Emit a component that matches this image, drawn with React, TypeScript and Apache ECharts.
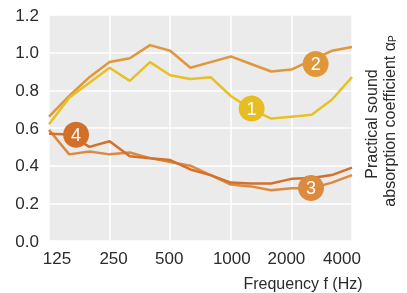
import React, { useEffect, useRef } from "react";
import * as echarts from "echarts";

const frequencies = [125, 160, 200, 250, 315, 400, 500, 630, 800, 1000, 1250, 1600, 2000, 2500, 3150, 4000];
const tickLabels = ["125", "250", "500", "1000", "2000", "4000"];
const yTicks = [0, 0.2, 0.4, 0.6, 0.8, 1.0, 1.2];

const series1 = [0.62, 0.76, 0.84, 0.92, 0.85, 0.95, 0.88, 0.86, 0.87, 0.77, 0.70, 0.65, 0.66, 0.67, 0.75, 0.87];
const series2 = [0.66, 0.77, 0.87, 0.95, 0.97, 1.04, 1.01, 0.92, 0.95, 0.98, 0.94, 0.90, 0.91, 0.96, 1.01, 1.03];
const series3 = [0.59, 0.46, 0.475, 0.46, 0.47, 0.44, 0.42, 0.40, 0.35, 0.30, 0.29, 0.27, 0.28, 0.28, 0.31, 0.35];
const series4 = [0.57, 0.565, 0.50, 0.53, 0.45, 0.44, 0.43, 0.38, 0.35, 0.31, 0.305, 0.305, 0.33, 0.335, 0.35, 0.39];

const badgeLabels = ["1", "2", "3", "4"];
const badgeX = [10.03, 13.2, 12.97, 1.34];
const badgeY = [0.703, 0.94, 0.281, 0.564];

const lineColors = ["#e8c024", "#df973a", "#dd8a40", "#d3712b"];
const badgeColors = ["#e6bd22", "#df973a", "#dc8a3e", "#d2702a"];

const FONT = "'Liberation Sans', Arial, Helvetica, sans-serif";

export default function App() {
  const ref = useRef<HTMLDivElement>(null);
  useEffect(() => {
    if (!ref.current) return;
    const chart = echarts.init(ref.current, null, { renderer: "svg" });
    const allSeries = [series1, series2, series3, series4];
    const labelPad: Record<string, number[]> = {
      "125": [0, 0, 0, 16],
      "250": [0, 0, 0, 8],
      "500": [0, 2, 0, 0],
      "1000": [0, 0, 0, 2],
      "2000": [0, 10, 0, 0],
      "4000": [0, 20, 0, 0],
    };
    const rich: Record<string, any> = {};
    tickLabels.forEach((t) => {
      rich["t" + t] = { fontSize: 17, fontFamily: FONT, color: "#2b2b2b", padding: labelPad[t] };
    });
    chart.setOption({
      animation: false,
      grid: {
        left: 49,
        right: 55,
        top: 15,
        bottom: 52,
        show: true,
        backgroundColor: "#ebebeb",
        borderWidth: 0,
      },
      xAxis: {
        type: "value",
        min: 0,
        max: frequencies.length - 1,
        interval: 3,
        axisLine: { show: false },
        axisTick: { show: false },
        splitLine: { show: true, lineStyle: { color: "#ffffff", width: 1.5 } },
        axisLabel: {
          margin: 9,
          formatter: (v: number) => {
            const t = tickLabels[Math.round(v / 3)];
            return t ? `{t${t}|${t}}` : "";
          },
          rich,
        },
      },
      yAxis: {
        type: "value",
        min: yTicks[0],
        max: yTicks[yTicks.length - 1],
        interval: 0.2,
        axisLine: { show: false },
        axisTick: { show: false },
        splitLine: { show: true, lineStyle: { color: "#ffffff", width: 1.5 } },
        axisLabel: {
          margin: 10,
          fontSize: 17,
          fontFamily: FONT,
          color: "#2b2b2b",
          formatter: (v: number) => v.toFixed(1),
        },
      },
      series: [
        ...allSeries.map((s, k) => ({
          type: "line",
          data: s.map((v, i) => [i, v]),
          symbol: "none",
          lineStyle: { color: lineColors[k], width: 2.5 },
          z: 2 + (k === 0 ? 1 : 0),
        })),
        {
          type: "scatter",
          symbol: "circle",
          symbolSize: 26,
          z: 10,
          data: badgeLabels.map((b, k) => ({
            value: [badgeX[k], badgeY[k]],
            name: b,
            itemStyle: { color: badgeColors[k], opacity: 1 },
          })),
          itemStyle: { opacity: 1 },
          label: {
            show: true,
            position: "inside",
            formatter: (p: any) => p.name,
            color: "#ffffff",
            fontSize: 18,
            fontFamily: FONT,
          },
        },
      ],
      graphic: [
        {
          type: "text",
          x: 303,
          y: 283,
          style: {
            text: "Frequency f (Hz)",
            fontSize: 16,
            fontFamily: FONT,
            fill: "#2b2b2b",
            textAlign: "center",
            textVerticalAlign: "middle",
          },
        },
        {
          type: "text",
          x: 371,
          y: 124,
          rotation: Math.PI / 2,
          style: {
            text: "Practical sound",
            fontSize: 16,
            fontFamily: FONT,
            fill: "#2b2b2b",
            textAlign: "center",
            textVerticalAlign: "middle",
          },
        },
        {
          type: "text",
          x: 389,
          y: 121,
          rotation: Math.PI / 2,
          style: {
            text: "absorption coefficient α{sub|P}",
            fontSize: 16,
            fontFamily: FONT,
            fill: "#2b2b2b",
            textAlign: "center",
            textVerticalAlign: "middle",
            rich: {
              sub: { fontSize: 10, fontFamily: FONT, fill: "#2b2b2b", verticalAlign: "bottom", padding: [6, 0, 0, 0] },
            },
          },
        },
      ],
    });
    return () => chart.dispose();
  }, []);
  return <div ref={ref} style={{ position: "fixed", left: 0, top: 0, width: 407, height: 293 }} />;
}
